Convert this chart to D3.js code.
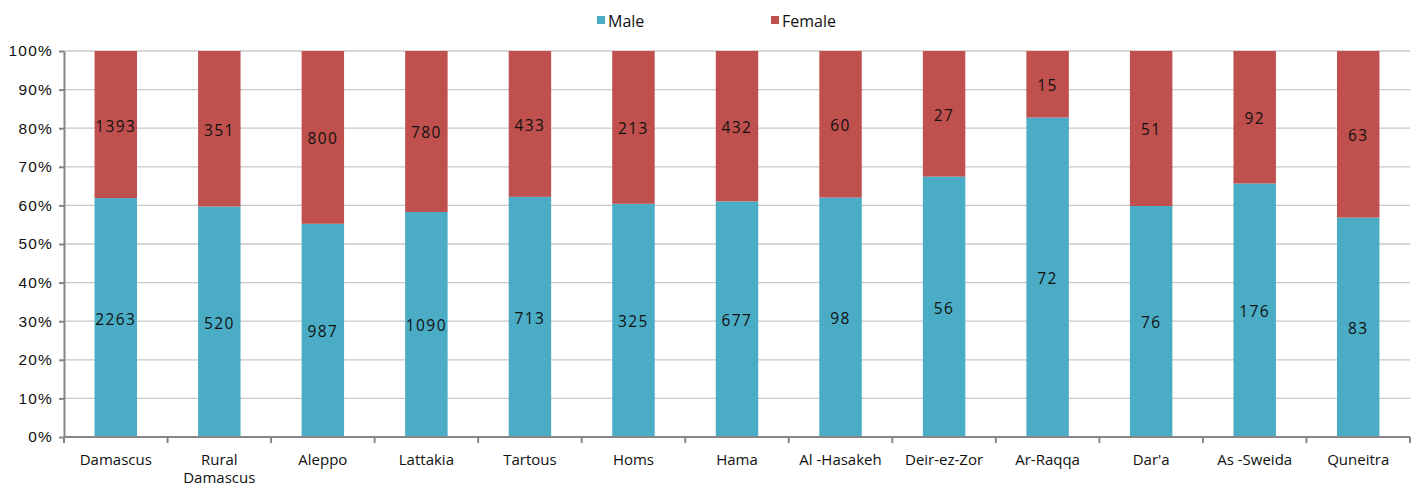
<!DOCTYPE html>
<html>
<head>
<meta charset="utf-8">
<script src="https://cdn.jsdelivr.net/npm/d3@7/dist/d3.min.js"></script>
<style>
  body { margin: 0; background: #fff; }
  svg { display: block; font-family: "Open Sans", "DejaVu Sans", sans-serif; }
</style>
</head>
<body>
<svg id="chart" width="1417" height="486"></svg>
<script>
// Governorates and counts by sex
const categories = ["Damascus", "Rural Damascus", "Aleppo", "Lattakia", "Tartous", "Homs", "Hama",
  "Al -Hasakeh", "Deir-ez-Zor", "Ar-Raqqa", "Dar'a", "As -Sweida", "Quneitra"];
const male =   [2263, 520, 987, 1090, 713, 325, 677, 98, 56, 72, 76, 176, 83];
const female = [1393, 351, 800, 780, 433, 213, 432, 60, 27, 15, 51, 92, 63];
const seriesNames = ["Male", "Female"];
const colors = ["#4bacc6", "#c0504d"];
const yTicks = [0, 0.1, 0.2, 0.3, 0.4, 0.5, 0.6, 0.7, 0.8, 0.9, 1];

const svg = d3.select("#chart");
const margin = { left: 64, right: 7, top: 51, bottom: 49 };
const W = 1417, H = 486;

const x = d3.scaleBand().domain(categories).range([margin.left, W - margin.right])
  .paddingInner(0.59).paddingOuter(0.295);
const y = d3.scaleLinear().domain([0, 1]).range([H - margin.bottom, margin.top]);

const rows = categories.map((c, i) => {
  const t = male[i] + female[i];
  return { cat: c, Male: male[i] / t, Female: female[i] / t, mv: male[i], fv: female[i] };
});
const stack = d3.stack().keys(seriesNames)(rows);

// grid
svg.append("g").selectAll("line").data(yTicks.slice(1)).join("line")
  .attr("x1", margin.left).attr("x2", W - margin.right)
  .attr("y1", d => y(d)).attr("y2", d => y(d))
  .attr("stroke", "#c8c8c8").attr("stroke-width", 1.3);

// bars
stack.forEach((s, si) => {
  const g = svg.append("g");
  g.selectAll("rect").data(s).join("rect")
    .attr("x", d => x(d.data.cat))
    .attr("width", x.bandwidth())
    .attr("y", d => y(d[1]))
    .attr("height", d => y(d[0]) - y(d[1]))
    .attr("fill", colors[si]);
  g.selectAll("text").data(s).join("text")
    .attr("x", d => x(d.data.cat) + x.bandwidth() / 2)
    .attr("y", d => (y(d[0]) + y(d[1])) / 2)
    .attr("dy", "0.45em")
    .attr("text-anchor", "middle")
    .attr("font-size", 15.5)
    .attr("letter-spacing", 1.4)
    .attr("fill", "#111")
    .text(d => si === 0 ? d.data.mv : d.data.fv);
});

// y axis
const yAxis = svg.append("g").attr("transform", `translate(${margin.left},0)`)
  .call(d3.axisLeft(y).tickValues(yTicks).tickFormat(d => Math.round(d * 100) + "%").tickSize(5).tickSizeOuter(0));
yAxis.select(".domain").attr("stroke", "#868686").attr("stroke-width", 2);
yAxis.selectAll(".tick line").attr("stroke", "#868686").attr("stroke-width", 2);
yAxis.selectAll(".tick text").attr("font-size", 15.5).attr("fill", "#111").attr("letter-spacing", 1.2).attr("x", -11);

// x axis
const x0 = H - margin.bottom;
const step = x.step();
svg.append("line").attr("x1", margin.left).attr("x2", W - margin.right)
  .attr("y1", x0).attr("y2", x0).attr("stroke", "#868686").attr("stroke-width", 2);
svg.append("g").selectAll("line").data(d3.range(categories.length + 1)).join("line")
  .attr("x1", i => margin.left + i * step).attr("x2", i => margin.left + i * step)
  .attr("y1", x0).attr("y2", x0 + 6).attr("stroke", "#868686").attr("stroke-width", 2);

const xl = svg.append("g").selectAll("text").data(categories).join("text")
  .attr("x", d => x(d) + x.bandwidth() / 2)
  .attr("y", x0 + 28)
  .attr("text-anchor", "middle")
  .attr("font-size", 15)
  .attr("fill", "#111");
xl.each(function(d) {
  const t = d3.select(this);
  const parts = d === "Rural Damascus" ? ["Rural", "Damascus"] : [d];
  parts.forEach((p, i) => t.append("tspan").attr("x", t.attr("x")).attr("dy", i === 0 ? 0 : 18).text(p));
});

// legend
const legend = [{ name: "Male", x: 597 }, { name: "Female", x: 771 }];
legend.forEach((l, i) => {
  svg.append("rect").attr("x", l.x).attr("y", 16).attr("width", 8).attr("height", 8).attr("fill", colors[i]);
  svg.append("text").attr("x", l.x + 11).attr("y", 21).attr("dy", "0.35em")
    .attr("font-size", 16).attr("fill", "#111").text(l.name);
});
</script>
</body>
</html>
